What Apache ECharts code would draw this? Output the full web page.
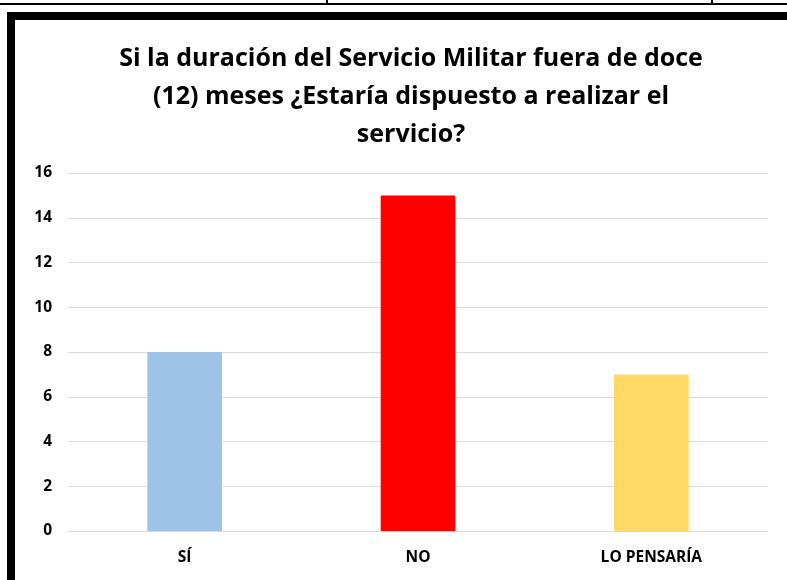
<!DOCTYPE html>
<html><head><meta charset="utf-8">
<script src="https://cdn.jsdelivr.net/npm/echarts@6/dist/echarts.min.js"></script>
<style>html,body{margin:0;padding:0;background:#fff}#c{width:787px;height:580px}</style>
</head><body><div id="c"></div>
<script>
const categories = ['SÍ', 'NO', 'LO PENSARÍA'];
const values = [8, 15, 7];
const barColors = ['#9DC3E6', '#FF0000', '#FFD966'];
const titleLines = ['Si la duración del Servicio Militar fuera de doce', '(12) meses ¿Estaría dispuesto a realizar el', 'servicio?'];

const chart = echarts.init(document.getElementById('c'));
chart.setOption({
  animation: false,
  title: {
    text: titleLines.join('\n'),
    left: 406, top: 35, textAlign: 'center',
    textStyle: {fontFamily: 'Open Sans', fontWeight: 'bold', fontSize: 25, lineHeight: 38, color: '#000'}
  },
  grid: {left: 68, right: 19, top: 173, bottom: 49},
  xAxis: {
    type: 'category', data: categories,
    axisLine: {show: true, lineStyle: {color: '#d9d9d9', width: 1}},
    axisTick: {show: false},
    axisLabel: {color: '#000', fontWeight: 'bold', fontSize: 15.5, fontFamily: 'Open Sans', margin: 19}
  },
  yAxis: {
    type: 'value', min: 0, max: 16, interval: 2,
    axisLine: {show: false}, axisTick: {show: false},
    splitLine: {lineStyle: {color: '#d9d9d9', width: 1}},
    axisLabel: {color: '#000', fontWeight: 'bold', fontSize: 15.5, fontFamily: 'Open Sans', margin: 16}
  },
  series: [{
    type: 'bar', barWidth: '32%',
    data: values.map((v, i) => ({value: v, itemStyle: {color: barColors[i]}}))
  }],
  graphic: [
    {type: 'line', shape: {x1: 0, y1: 4, x2: 787, y2: 4}, style: {stroke: '#000', lineWidth: 2}},
    {type: 'line', shape: {x1: 327, y1: 0, x2: 327, y2: 4}, style: {stroke: '#000', lineWidth: 2}},
    {type: 'line', shape: {x1: 712, y1: 0, x2: 712, y2: 4}, style: {stroke: '#000', lineWidth: 2}},
    {type: 'rect', shape: {x: 7, y: 12, width: 780, height: 8}, style: {fill: '#000'}},
    {type: 'rect', shape: {x: 7, y: 12, width: 8, height: 568}, style: {fill: '#000'}}
  ]
});
</script></body></html>
